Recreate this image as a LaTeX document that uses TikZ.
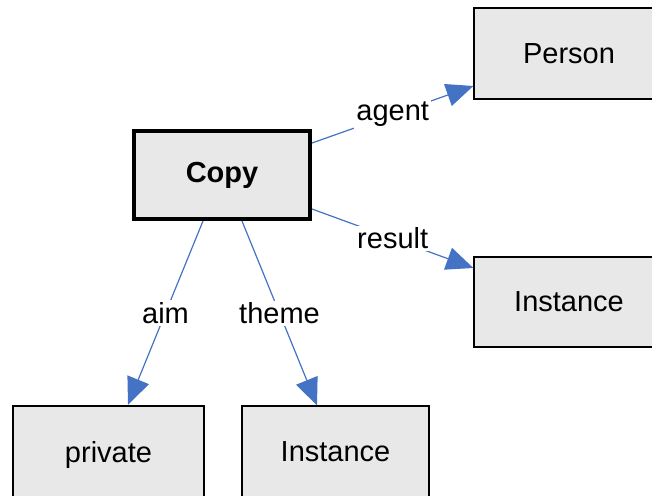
\documentclass[tikz,border=0pt]{standalone}
\usepackage{fontspec}
\setmainfont{Liberation Sans}
\usetikzlibrary{arrows.meta}
\definecolor{boxfill}{HTML}{E8E8E8}
\definecolor{arrowblue}{HTML}{4472C4}
\tikzset{
  concept/.style={draw=black, fill=boxfill, rectangle, inner sep=0pt,
    font=\fontsize{29}{31}\selectfont, line width=1.3pt},
  relarrow/.style={draw=arrowblue, line width=1.2pt,
    -{Triangle[length=27pt,width=23pt,fill=arrowblue]}},
  rellabel/.style={fill=white, inner sep=2pt, font=\fontsize{29}{31}\selectfont}
}
\begin{document}
\begin{tikzpicture}[x=1pt,y=-1pt]
\useasboundingbox (0,0) rectangle (652,495);
\node[concept, line width=4pt, minimum width=176pt, minimum height=88pt, font=\fontsize{29}{31}\selectfont\bfseries] (copy) at (222,175) {Copy};
\node[concept, minimum width=200pt, minimum height=91pt] (person) at (574,53.5) {\hspace*{-10pt}Person};
\node[concept, minimum width=200pt, minimum height=90pt] (inst1) at (574,302) {\hspace*{-10pt}Instance};
\node[concept, line width=2.5pt, minimum width=191pt, minimum height=100pt] (private) at (108.5,456) {\raisebox{8pt}{private}};
\node[concept, minimum width=187pt, minimum height=100pt] (inst2) at (335.5,456) {\raisebox{8pt}{Instance}};
\draw[relarrow] ([yshift=32pt]copy.east) -- node[rellabel]{agent} ([yshift=-32.5pt]person.west);
\draw[relarrow] ([yshift=-34pt]copy.east) -- node[rellabel]{result} ([yshift=34pt]inst1.west);
\draw[relarrow] ([xshift=-19pt]copy.south) -- node[rellabel]{aim} ([xshift=19.5pt]private.north);
\draw[relarrow] ([xshift=20pt]copy.south) -- node[rellabel]{theme} ([xshift=-18.5pt]inst2.north);
\end{tikzpicture}
\end{document}
